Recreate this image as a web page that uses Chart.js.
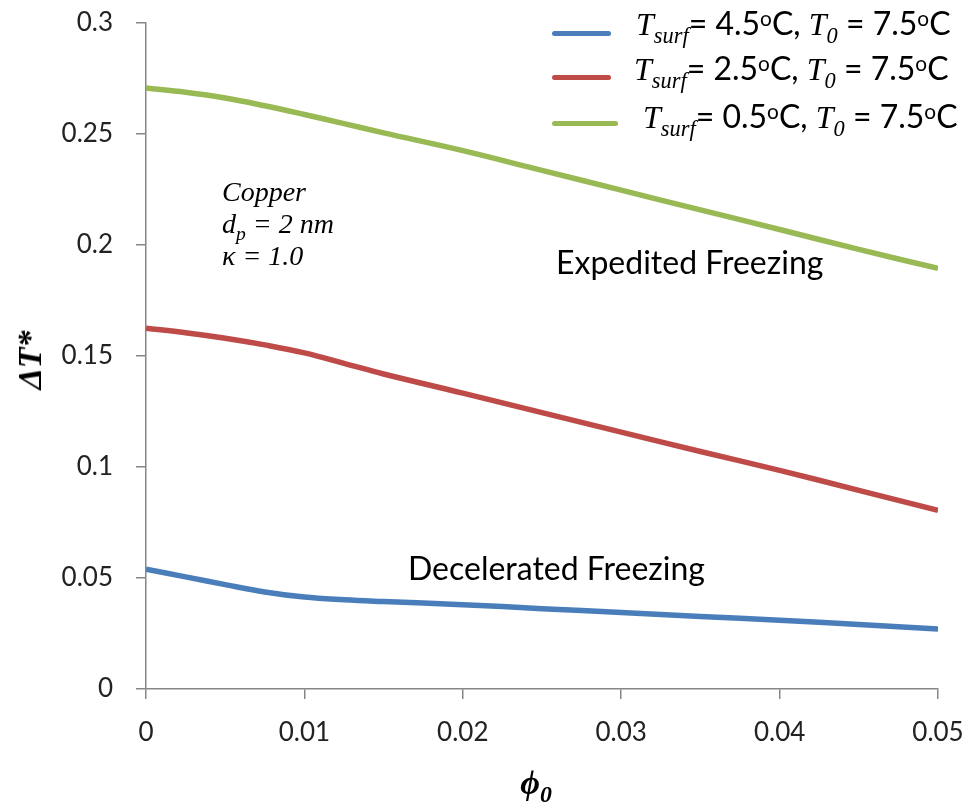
<!DOCTYPE html>
<html>
<head>
<meta charset="utf-8">
<script src="https://cdn.jsdelivr.net/npm/chart.js@4"></script>
<style>
  body { margin: 0; background: #fff; }
  #wrap { position: relative; width: 974px; height: 810px; }
  .lbl { position: absolute; white-space: nowrap; color: #000; }
  .sans { font-family: Lato, "Open Sans", sans-serif; }
  .serif { font-family: "Liberation Serif", "DejaVu Serif", serif; font-style: italic; }
  .key { position: absolute; height: 5px; border-radius: 3px; }
  sub { font-size: 70%; vertical-align: -0.35em; }
  sup { font-size: 65%; vertical-align: 0.45em; }
</style>
</head>
<body>
<div id="wrap">
  <canvas id="myChart" width="974" height="810"></canvas>

  <!-- legend -->
  <div class="key" style="left:552px; top:31px; width:59px; background:#4a7ebb"></div>
  <div class="key" style="left:552px; top:75px; width:59px; background:#be4b48"></div>
  <div class="key" style="left:552px; top:121px; width:66px; background:#98b954"></div>
  <div class="lbl sans" style="left:636px; top:3px; font-size:32px"><span class="serif">T<sub>surf</sub></span>= 4.5<sup>o</sup>C, <span class="serif">T<sub>0</sub></span> = 7.5<sup>o</sup>C</div>
  <div class="lbl sans" style="left:634px; top:48px; font-size:32px"><span class="serif">T<sub>surf</sub></span>= 2.5<sup>o</sup>C, <span class="serif">T<sub>0</sub></span> = 7.5<sup>o</sup>C</div>
  <div class="lbl sans" style="left:643px; top:96px; font-size:32px"><span class="serif">T<sub>surf</sub></span>= 0.5<sup>o</sup>C, <span class="serif">T<sub>0</sub></span> = 7.5<sup>o</sup>C</div>

  <!-- annotations -->
  <div class="lbl serif" style="left:222px; top:176px; font-size:28px">Copper</div>
  <div class="lbl serif" style="left:222px; top:208px; font-size:28px">d<sub>p</sub> = 2 nm</div>
  <div class="lbl serif" style="left:222px; top:240px; font-size:28px">κ = 1.0</div>
  <div class="lbl sans" style="left:556px; top:242px; font-size:32px">Expedited Freezing</div>
  <div class="lbl sans" style="left:408px; top:548px; font-size:32px">Decelerated Freezing</div>

  <!-- axis titles -->
  <div class="lbl serif" style="left:30px; top:360px; font-size:34px; font-weight:bold; transform:translate(-50%,-50%) rotate(-90deg)">ΔT*</div>
  <div class="lbl serif" style="left:536px; top:786px; font-size:34px; font-weight:bold; transform:translate(-50%,-50%)">ϕ<sub>0</sub></div>
</div>
<script>
// volume fraction phi_0
const phi = [0, 0.0025, 0.005, 0.0075, 0.01, 0.0125, 0.015, 0.02, 0.025, 0.03, 0.035, 0.04, 0.045, 0.05];
// dimensionless temperature difference for each surface temperature
const dT45 = [0.054, 0.0505, 0.047, 0.0437, 0.0414, 0.0402, 0.0394, 0.038, 0.0362, 0.0345, 0.0327, 0.031, 0.029, 0.027];
const dT25 = [0.1625, 0.1605, 0.158, 0.155, 0.1514, 0.1467, 0.1419, 0.1333, 0.1245, 0.1157, 0.107, 0.0985, 0.0895, 0.0805];
const dT05 = [0.2707, 0.2688, 0.2662, 0.2627, 0.2588, 0.2547, 0.2505, 0.2425, 0.2336, 0.2247, 0.2158, 0.207, 0.198, 0.1895];
const seriesNames = ['Tsurf = 4.5°C', 'Tsurf = 2.5°C', 'Tsurf = 0.5°C'];
const seriesColors = ['#4a7ebb', '#be4b48', '#98b954'];

const toPoints = ys => phi.map((x, i) => ({ x: x, y: ys[i] }));

const axisGray = '#868686';
const tickFont = { family: 'Lato, "Open Sans", sans-serif', size: 26 };

// keep the plot box fixed: drop the label overhang chart.js adds around it
function fixX(s) { s.height = 121; s.paddingLeft = 0; s.paddingRight = 0; }
function fixY(s) { s.width = 146; s.paddingTop = 0; s.paddingBottom = 0; }

var ctx = document.getElementById('myChart').getContext('2d');
var myChart = new Chart(ctx, {
    type: 'line',
    data: {
        datasets: [dT45, dT25, dT05].map((ys, i) => ({
            label: seriesNames[i],
            data: toPoints(ys),
            borderColor: seriesColors[i],
            borderWidth: 5.5,
            pointRadius: 0,
            tension: 0.4,
            fill: false
        }))
    },
    options: {
        responsive: false,
        animation: false,
        layout: { padding: { top: 23, right: 36, left: 0, bottom: 0 } },
        plugins: { legend: { display: false }, tooltip: { enabled: false } },
        scales: {
            x: {
                type: 'linear',
                min: 0, max: 0.05,
                afterFit: fixX,
                ticks: { stepSize: 0.01, font: tickFont, color: '#222', padding: 18,
                         callback: v => +v.toFixed(2) },
                grid: { drawOnChartArea: false, color: axisGray, tickLength: 10, lineWidth: 1.5 },
                border: { color: axisGray, width: 1.5 }
            },
            y: {
                min: 0, max: 0.3,
                afterFit: fixY,
                ticks: { stepSize: 0.05, font: tickFont, color: '#222', padding: 23,
                         callback: v => +v.toFixed(2) },
                grid: { drawOnChartArea: false, color: axisGray, tickLength: 10, lineWidth: 1.5 },
                border: { color: axisGray, width: 1.5 }
            }
        }
    }
});
</script>
</body>
</html>
